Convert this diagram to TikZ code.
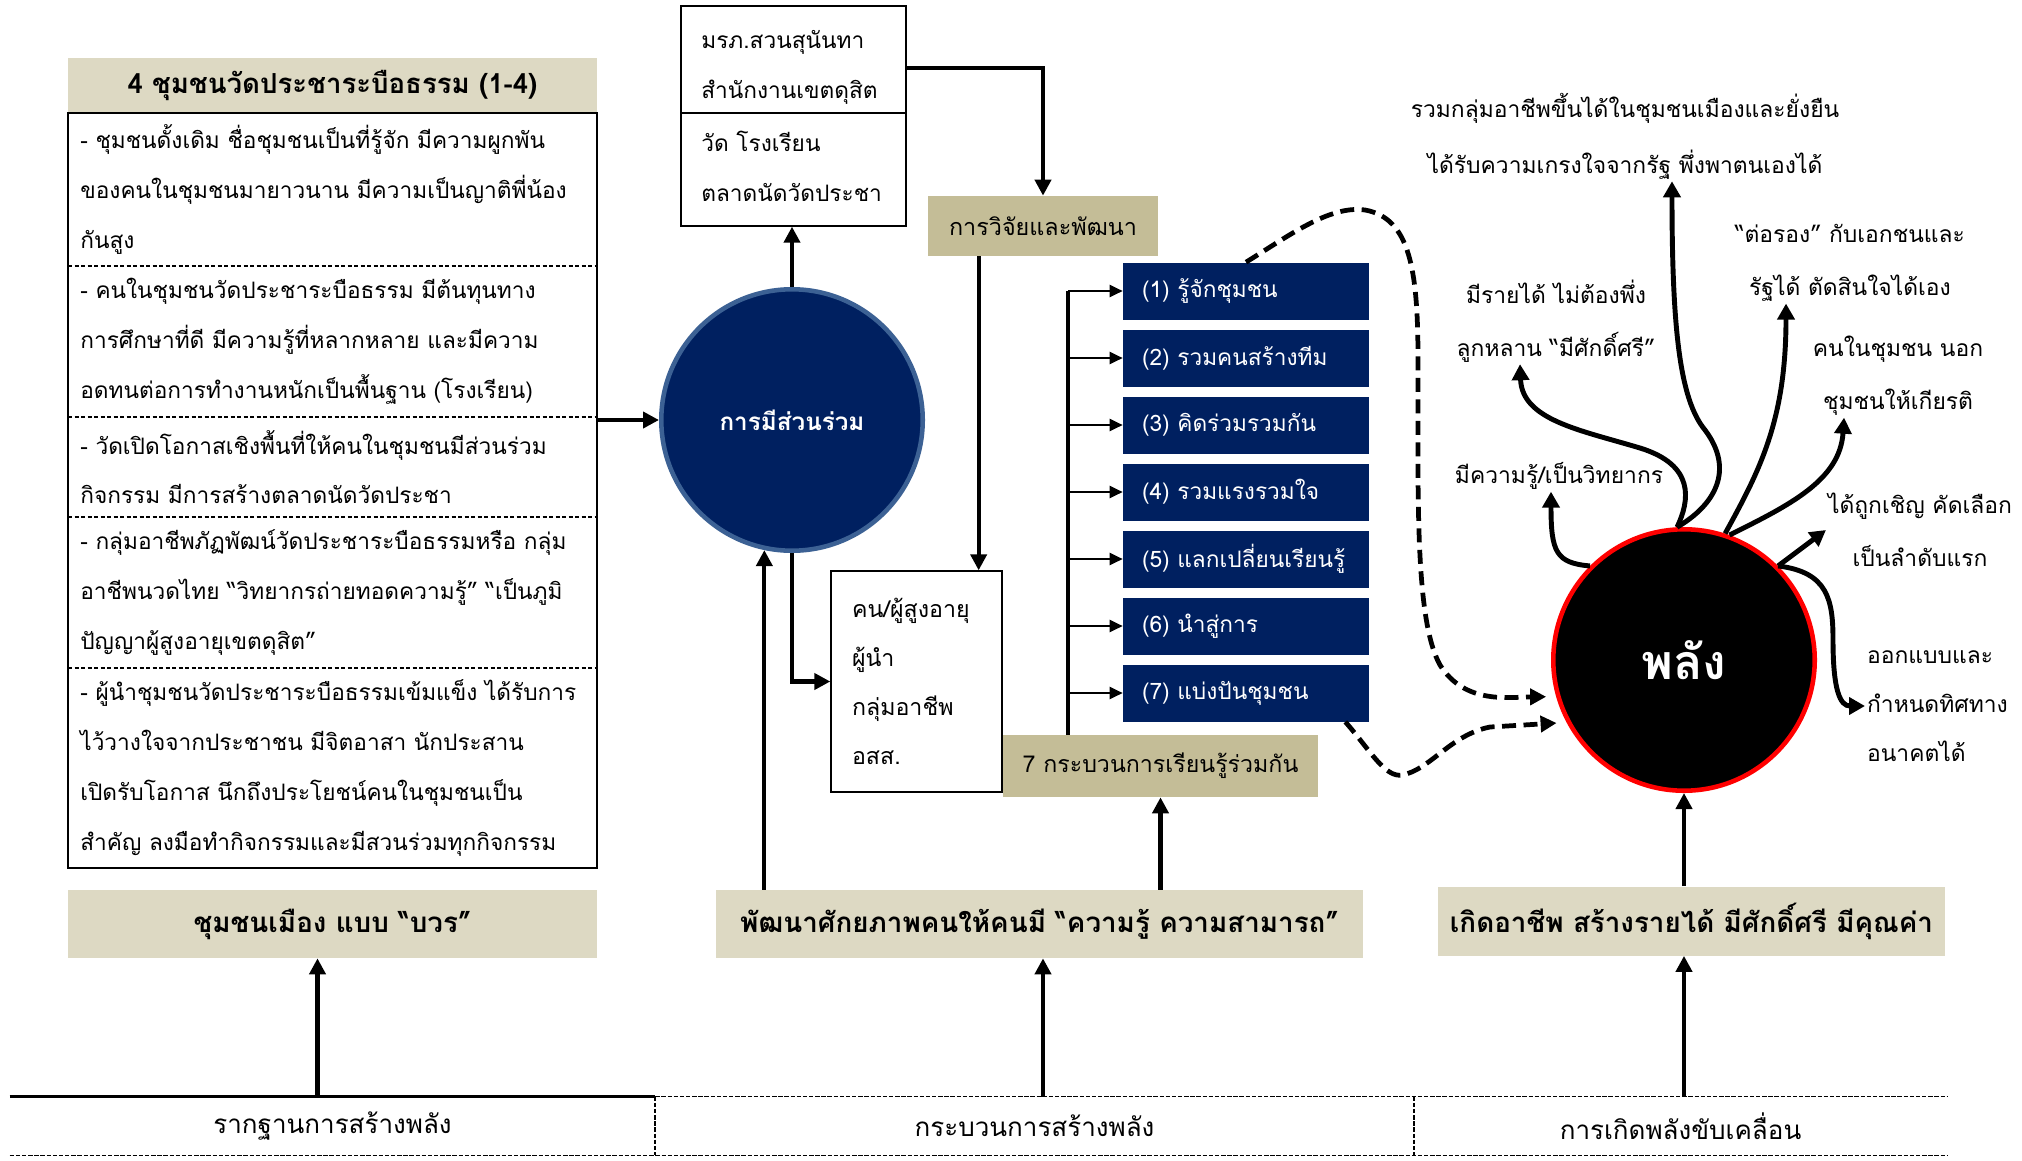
\documentclass[tikz,border=0pt]{standalone}
\usepackage{fontspec}
\setmainfont{Loma}[Script=Thai]
\usepackage{tikz}
\usetikzlibrary{arrows.meta}
\definecolor{navy}{HTML}{002060}
\definecolor{navyrim}{HTML}{3C6194}
\definecolor{beige}{HTML}{DDD9C3}
\definecolor{tan}{HTML}{C4BD97}
\newcommand{\setfs}[2]{\fontsize{#1}{#2}\selectfont}

\begin{document}
\begin{tikzpicture}[x=0.02cm,y=-0.02cm,
	body/.style={font=\setfs{12.9}{28.4},align=left,inner sep=0pt,anchor=west},
	lab/.style={font=\setfs{13}{30},align=center,inner sep=1pt},
	plainbox/.style={draw,line width=0.8pt,inner sep=0pt},
	bluebox/.style={fill=navy,minimum width=4.92cm,minimum height=1.14cm,inner sep=0pt},
	bluetext/.style={text=white,font=\setfs{12.9}{16},anchor=west,inner sep=0pt},
	footbox/.style={fill=beige,font=\bfseries\setfs{15.8}{19},minimum height=1.36cm,inner sep=0pt},
	cell/.style={font=\setfs{14.8}{18},minimum height=1.16cm,inner sep=0pt},
	arr/.style={line width=2.4pt,-{Triangle[length=0.32cm,width=0.32cm]}},
	rarr/.style={line width=2.8pt,-{Triangle[length=0.32cm,width=0.34cm]}},
	thinarr/.style={line width=1.2pt,-{Triangle[length=0.26cm,width=0.24cm]}},
	dashcurve/.style={line width=2.7pt,dash pattern=on 0.28cm off 0.15cm,-{Triangle[length=0.32cm,width=0.32cm]},shorten >=0.2cm},
	sep/.style={line width=0.8pt,dash pattern=on 2.5pt off 1.2pt},
	band/.style={line width=0.9pt,dash pattern=on 2.5pt off 1pt}]
	\useasboundingbox (0,0) rectangle (2022,1160);

	\node[fill=beige,minimum width=10.58cm,minimum height=1.1cm,inner sep=0pt,font=\bfseries\setfs{15.7}{19}] (lhead) at (332.5,85.5) {4 ชุมชนวัดประชาระบือธรรม (1-4)};
	\node[draw,line width=1.1pt,minimum width=10.58cm,minimum height=15.1cm,inner sep=0pt] (lbox) at (332.5,490.5) {};
	\foreach \y in {266,417,517,668}
	\draw[sep] (68,\y) -- (597,\y);
	\node[body] (s1) at (80,189.5) {- ชุมชนดั้งเดิม ชื่อชุมชนเป็นที่รู้จัก มีความผูกพัน\\ของคนในชุมชนมายาวนาน มีความเป็นญาติพี่น้อง\\กันสูง};
	\node[body] (s2) at (80,341.5) {- คนในชุมชนวัดประชาระบือธรรม มีต้นทุนทาง\\การศึกษาที่ดี มีความรู้ที่หลากหลาย และมีความ\\อดทนต่อการทำงานหนักเป็นพื้นฐาน (โรงเรียน)};
	\node[body] (s3) at (80,467) {- วัดเปิดโอกาสเชิงพื้นที่ให้คนในชุมชนมีส่วนร่วม\\กิจกรรม มีการสร้างตลาดนัดวัดประชา};
	\node[body] (s4) at (80,592.5) {- กลุ่มอาชีพภัฏพัฒน์วัดประชาระบือธรรมหรือ กลุ่ม\\อาชีพนวดไทย “วิทยากรถ่ายทอดความรู้” “เป็นภูมิ\\ปัญญาผู้สูงอายุเขตดุสิต”};
	\node[body] (s5) at (80,768) {- ผู้นำชุมชนวัดประชาระบือธรรมเข้มแข็ง ได้รับการ\\ไว้วางใจจากประชาชน มีจิตอาสา นักประสาน\\เปิดรับโอกาส นึกถึงประโยชน์คนในชุมชนเป็น\\สำคัญ ลงมือทำกิจกรรมและมีสวนร่วมทุกกิจกรรม};

	\node[plainbox,minimum width=4.5cm,minimum height=2.14cm] (mtop) at (793.5,59.5) {};
	\node[plainbox,minimum width=4.5cm,minimum height=2.26cm] (mbot) at (793.5,169.5) {};
	\node[body] (t1) at (701,67) {มรภ.สวนสุนันทา\\สำนักงานเขตดุสิต};
	\node[body] (t2) at (701,166) {วัด โรงเรียน\\ตลาดนัดวัดประชา};
	\node[fill=tan,minimum width=4.6cm,minimum height=1.2cm,inner sep=0pt,font=\setfs{13.3}{16}] (rnd) at (1043,226) {การวิจัยและพัฒนา};
	\node[circle,fill=navy,draw=navyrim,line width=2.6pt,minimum size=5.23cm,inner sep=0pt,text=white,font=\bfseries\setfs{13.8}{16}] (part) at (792,420) {การมีส่วนร่วม};
	\node[plainbox,minimum width=3.42cm,minimum height=4.42cm,inner xsep=0.42cm,text width=2.58cm,align=left,font=\setfs{13.2}{27.9}] (kon) at (916.5,681.5) {คน/ผู้สูงอายุ\\ผู้นำ\\กลุ่มอาชีพ\\อสส.};

	\foreach \t [count=\i] in {{(1) รู้จักชุมชน},{(2) รวมคนสร้างทีม},{(3) คิดร่วมรวมกัน},{(4) รวมแรงรวมใจ},{(5) แลกเปลี่ยนเรียนรู้},{(6) นำสู่การ},{(7) แบ่งปันชุมชน}}{
	\node[bluebox] (b\i) at (1246,{291+67*(\i-1)}) {};
	\node[bluetext] (bt\i) at ([xshift=0.38cm]b\i.west) {\t};
	}
	\node[fill=tan,minimum width=6.3cm,minimum height=1.24cm,inner sep=0pt,font=\setfs{13.2}{16}] (proc) at (1160.5,766) {7 กระบวนการเรียนรู้ร่วมกัน};

	\node[footbox,minimum width=10.58cm] (bwr) at (332.5,924) {ชุมชนเมือง แบบ “บวร”};
	\node[footbox,minimum width=12.94cm] (dev) at (1039.5,924) {พัฒนาศักยภาพคนให้คนมี “ความรู้ ความสามารถ”};
	\node[footbox,minimum width=10.14cm,minimum height=1.38cm] (gen) at (1691.5,921) {เกิดอาชีพ สร้างรายได้ มีศักดิ์ศรี มีคุณค่า};

	\node[cell,minimum width=12.9cm] (c1) at (332.5,1126) {รากฐานการสร้างพลัง};
	\node[cell,minimum width=15.18cm] (c2) at (1034.5,1126) {กระบวนการสร้างพลัง};
	\node[cell,minimum width=10.66cm] (c3) at (1680.5,1126) {การเกิดพลังขับเคลื่อน};
	\draw[line width=1.6pt] (c1.north west) -- (c1.north east);
	\draw[band] (c1.north east) -- (c3.north east);
	\draw[band] (c1.south west) -- (c3.south east);
	\draw[band] (c2.north west) -- (c2.south west);
	\draw[band] (c3.north west) -- (c3.south west);

	\node[circle,fill=black,draw=red,line width=2.6pt,minimum size=5.23cm,inner sep=0pt,text=white,font=\bfseries\setfs{27.5}{33}] (pl) at (1684,660) {พลัง};
	\node[lab,font=\setfs{13}{32}] (k0) at (1625,136) {รวมกลุ่มอาชีพขึ้นได้ในชุมชนเมืองและยั่งยืน\\ได้รับความเกรงใจจากรัฐ พึ่งพาตนเองได้};
	\node[lab] (k3) at (1850,263) {“ต่อรอง” กับเอกชนและ\\รัฐได้ ตัดสินใจได้เอง};
	\node[lab] (k2) at (1556,321) {มีรายได้ ไม่ต้องพึ่ง\\ลูกหลาน “มีศักดิ์ศรี”};
	\node[lab] (k4) at (1898,376) {คนในชุมชน นอก\\ชุมชนให้เกียรติ};
	\node[lab] (k1) at (1559,476) {มีความรู้/เป็นวิทยากร};
	\node[lab] (k5) at (1920,530) {ได้ถูกเชิญ คัดเลือก\\เป็นลำดับแรก};
	\node[lab,align=left,anchor=west,font=\setfs{13}{28}] (k6) at (1865,706) {ออกแบบและ\\กำหนดทิศทาง\\อนาคตได้};

	\draw[arr] (lbox.east |- part.west) -- (part.west);
	\draw[arr] (part.north) -- (part.north |- mbot.south);
	\draw[arr] ([yshift=-0.17cm]mtop.east) -| (rnd.north);
	\draw[arr] ([xshift=1.02cm]rnd.south west) -- ([xshift=1.02cm]rnd.south west |- kon.north);
	\draw[arr] (part.south) |- (kon.west);
	\draw[arr] (dev.north -| part.258) -- (part.258);
	\draw[arr] (dev.north -| proc.south) -- (proc.south);
	\draw[arr] (gen.north -| pl.south) -- (pl.south);
	\draw[arr] ([xshift=-0.3cm]c1.north) -- ([xshift=-0.3cm]c1.north |- bwr.south);
	\draw[arr] ([xshift=0.17cm]c2.north) -- ([xshift=0.17cm]c2.north |- dev.south);
	\draw[arr] (c3.north -| pl.south) -- (gen.south -| pl.south);

	\coordinate (fan) at (1068,291);
	\draw[line width=1.8pt] (fan) -- (fan |- proc.north);
	\foreach \i in {1,...,7}
	\draw[thinarr] (fan |- b\i.west) -- (b\i.west);

	\draw[dashcurve] (b1.north) .. controls (1290,235) and (1330,205) .. (1365,210) .. controls (1410,218) and (1418,270) .. (1418,360) .. controls (1418,500) and (1415,620) .. (1440,665) .. controls (1465,705) and (1510,697) .. (pl.196);
	\draw[dashcurve] ([xshift=-0.48cm]b7.south east) .. controls (1370,750) and (1385,778) .. (1402,775) .. controls (1430,770) and (1450,735) .. (1490,727) -- (pl.208);

	\draw[rarr] (pl.135) .. controls (1556,563) and (1551,552) .. ([xshift=-0.16cm]k1.south);
	\draw[rarr] (pl.93) .. controls (1690,500) and (1695,465) .. (1640,448) .. controls (1580,430) and (1522,420) .. ([xshift=-0.72cm]k2.south);
	\draw[rarr] (pl.93) .. controls (1715,505) and (1735,470) .. (1705,430) .. controls (1680,400) and (1672,330) .. ([xshift=0.94cm]k0.south);
	\draw[rarr] (pl.72) .. controls (1760,470) and (1786,420) .. ([xshift=-1.28cm]k3.south);
	\draw[rarr] (pl.70) .. controls (1790,505) and (1840,480) .. ([xshift=-1.08cm]k4.south);
	\draw[rarr] (pl.45) -- (k5.west);
	\draw[rarr] (pl.45) .. controls (1828,572) and (1833,600) .. (1833,640) .. controls (1833,690) and (1840,706) .. (k6.west);
\end{tikzpicture}
\end{document}
